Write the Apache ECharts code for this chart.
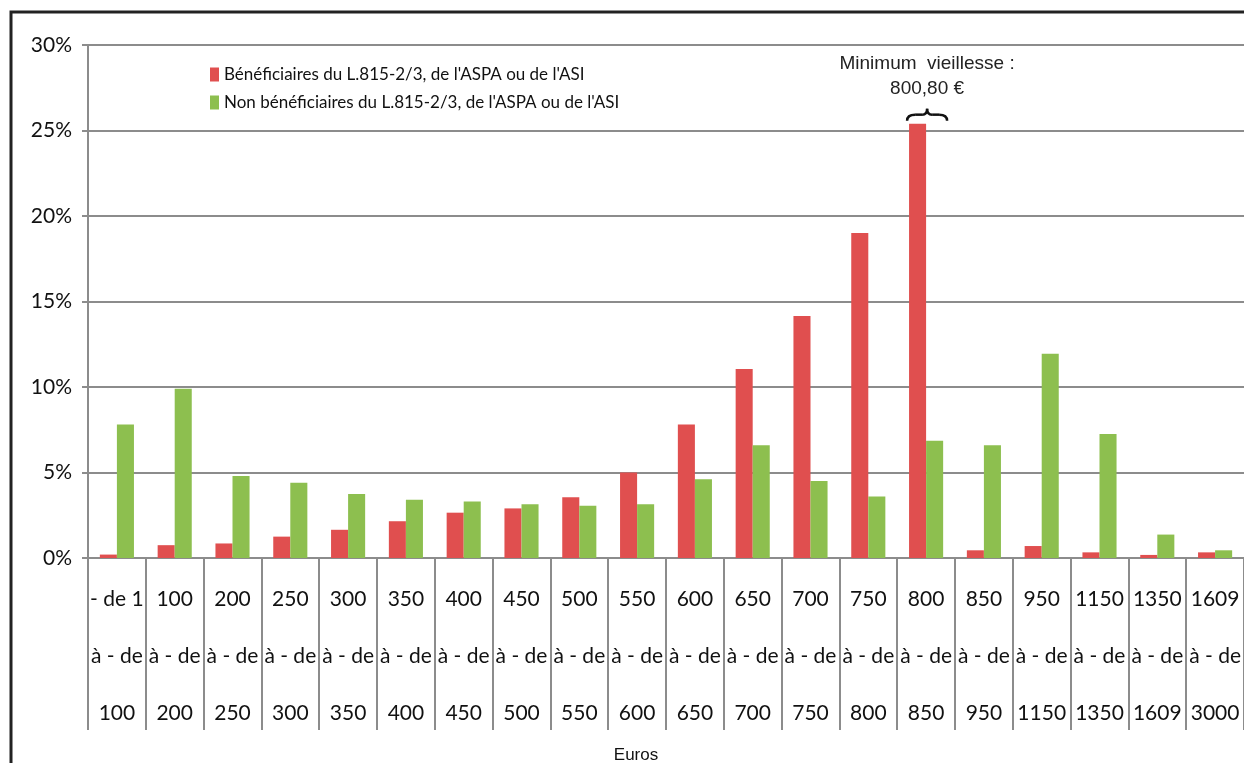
<!DOCTYPE html>
<html>
<head>
<meta charset="utf-8">
<script src="https://cdn.jsdelivr.net/npm/echarts@6/dist/echarts.min.js"></script>
<style>
  html, body { margin: 0; padding: 0; background: #fff; }
  #chart { width: 1244px; height: 763px; }
</style>
</head>
<body>
<div id="chart"></div>
<script>
'use strict'
// tranches de revenus (euros)
var categories = ['- de 1\nà - de\n100', '100\nà - de\n200', '200\nà - de\n250', '250\nà - de\n300',
  '300\nà - de\n350', '350\nà - de\n400', '400\nà - de\n450', '450\nà - de\n500', '500\nà - de\n550',
  '550\nà - de\n600', '600\nà - de\n650', '650\nà - de\n700', '700\nà - de\n750', '750\nà - de\n800',
  '800\nà - de\n850', '850\nà - de\n950', '950\nà - de\n1150', '1150\nà - de\n1350',
  '1350\nà - de\n1609', '1609\nà - de\n3000']
var beneficiaires = [0.2, 0.75, 0.85, 1.25, 1.65, 2.15, 2.65, 2.9, 3.55, 5.0, 7.8, 11.05, 14.15, 19.0, 25.4, 0.45, 0.7, 0.33, 0.18, 0.33]
var nonBeneficiaires = [7.8, 9.9, 4.8, 4.4, 3.75, 3.4, 3.3, 3.15, 3.05, 3.15, 4.6, 6.6, 4.5, 3.6, 6.85, 6.6, 11.95, 7.25, 1.37, 0.45]
var yTicks = [0, 5, 10, 15, 20, 25, 30]
var nomBenef = "Bénéficiaires du L.815-2/3, de l'ASPA ou de l'ASI"
var nomNonBenef = "Non bénéficiaires du L.815-2/3, de l'ASPA ou de l'ASI"

var narrow = "Lato, 'Open Sans', sans-serif"
var gris = '#8c8c8c'

var myChart = echarts.init(document.getElementById('chart'))
var option = {
  animation: false,
  color: ['#e04f4f', '#8dbf4f'],
  grid: { left: 88, right: 0, top: 45, bottom: 205, containLabel: false, outerBoundsMode: 'none' },
  legend: {
    orient: 'vertical', left: 205, top: 61, itemGap: 11,
    itemWidth: 9, itemHeight: 14, icon: 'rect',
    textStyle: { fontFamily: narrow, fontSize: 17, color: '#111' },
    data: [nomBenef, nomNonBenef]
  },
  xAxis: {
    type: 'category',
    data: categories,
    name: 'Euros', nameLocation: 'middle', nameGap: 188,
    nameTextStyle: { fontFamily: 'Liberation Sans, Arial', fontSize: 17, color: '#111', padding: [0, 60, 0, 0] },
    axisLine: { lineStyle: { color: gris, width: 2 } },
    axisTick: { show: true, length: 172, lineStyle: { color: gris, width: 2 } },
    axisLabel: { interval: 0, margin: 13, lineHeight: 57, fontFamily: narrow, fontSize: 21, color: '#111' }
  },
  yAxis: {
    type: 'value', min: 0, max: 30, interval: 5,
    axisLine: { show: true, lineStyle: { color: gris, width: 2 } },
    axisTick: { show: true, length: 6, lineStyle: { color: gris, width: 2 } },
    splitLine: { lineStyle: { color: gris, width: 2 } },
    axisLabel: {
      margin: 16, fontFamily: narrow, fontSize: 21, color: '#111',
      formatter: function (v) { return yTicks.indexOf(v) >= 0 ? v + '%' : '' }
    }
  },
  series: [
    { name: nomBenef, type: 'bar', data: beneficiaires, barGap: '0%', barCategoryGap: '41%' },
    { name: nomNonBenef, type: 'bar', data: nonBeneficiaires, barGap: '0%', barCategoryGap: '41%' }
  ]
}
myChart.setOption(option)

// annotation "Minimum vieillesse" au-dessus de la tranche 800 - 850
var idx = 14
var cx = myChart.convertToPixel({ xAxisIndex: 0 }, idx) + 1
var topY = myChart.convertToPixel({ yAxisIndex: 0 }, beneficiaires[idx]) - 3
var br = { fill: 'none', stroke: '#111', lineWidth: 2.5 }
myChart.setOption({
  graphic: [
    { type: 'rect', shape: { x: 11, y: 12, width: 1240, height: 760 }, style: { fill: 'none', stroke: '#222', lineWidth: 3 }, silent: true },
    { type: 'text', x: cx, y: topY - 69, style: { text: 'Minimum  vieillesse :\n800,80 €', textAlign: 'center', fontFamily: 'Liberation Sans, Arial', fontSize: 19, lineHeight: 25, fill: '#222' } },
    { type: 'bezierCurve', shape: { x1: cx - 20, y1: topY, cpx1: cx - 20, cpy1: topY - 6, x2: cx - 12, y2: topY - 6 }, style: br },
    { type: 'line', shape: { x1: cx - 12, y1: topY - 6, x2: cx - 5, y2: topY - 6 }, style: br },
    { type: 'bezierCurve', shape: { x1: cx - 5, y1: topY - 6, cpx1: cx, cpy1: topY - 6, x2: cx, y2: topY - 12 }, style: br },
    { type: 'bezierCurve', shape: { x1: cx, y1: topY - 12, cpx1: cx, cpy1: topY - 6, x2: cx + 5, y2: topY - 6 }, style: br },
    { type: 'line', shape: { x1: cx + 5, y1: topY - 6, x2: cx + 12, y2: topY - 6 }, style: br },
    { type: 'bezierCurve', shape: { x1: cx + 12, y1: topY - 6, cpx1: cx + 20, cpy1: topY - 6, x2: cx + 20, y2: topY }, style: br }
  ]
})
window.onresize = myChart.resize
</script>
</body>
</html>
